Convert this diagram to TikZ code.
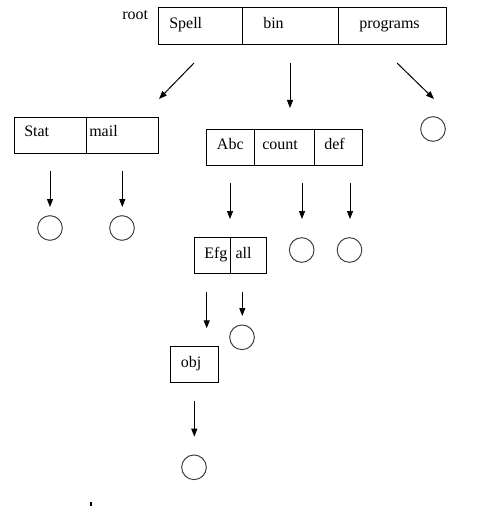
\documentclass[tikz,border=0pt]{standalone}
\usepackage{fontspec}
\setmainfont{Liberation Serif}
\usetikzlibrary{arrows.meta,fit}
\begin{document}
\begin{tikzpicture}[x=0.75pt,y=-0.75pt,
  cell/.style={draw,line width=0.75pt,inner sep=0pt},
  lbl/.style={anchor=base west,inner sep=0pt,font=\fontsize{12pt}{14pt}\selectfont},
  circ/.style={circle,draw=black!75,line width=0.75pt,minimum size=18.5pt,inner sep=0pt},
  arr/.style={line width=0.75pt,-{Triangle[length=6pt,width=4.5pt]}}]
\useasboundingbox (0,0) rectangle (499,506);
% root box
\node[cell,fit={(158.3,8) (242.3,44.3)}] (spell) {};
\node[cell,fit={(242.3,8) (338.7,44.3)}] (bin) {};
\node[cell,fit={(338.7,8) (446,44.3)}] (programs) {};
\node[lbl] (troot) at (122,20) {root};
\node[lbl] (tspell) at (169,29) {Spell};
\node[lbl] (tbin) at (263,29) {bin};
\node[lbl] (tprog) at (359,29) {programs};
% stat / mail
\node[cell,fit={(14,117.3) (86.3,153.7)}] (stat) {};
\node[cell,fit={(86.3,117.3) (158.7,153.7)}] (mail) {};
\node[lbl] (tstat) at (24,137) {Stat};
\node[lbl] (tmail) at (89,137) {mail};
% abc / count / def
\node[cell,fit={(206.7,129.3) (254.3,165.3)}] (abc) {};
\node[cell,fit={(254.3,129.3) (314.3,165.3)}] (count) {};
\node[cell,fit={(314.3,129.3) (362.7,165.3)}] (def) {};
\node[lbl] (tabc) at (216.7,149) {Abc};
\node[lbl] (tcount) at (262,149) {count};
\node[lbl] (tdef) at (324,149) {def};
% efg / all
\node[cell,fit={(194.3,237.3) (230.3,273.3)}] (efg) {};
\node[cell,fit={(230.3,237.3) (266.3,273.3)}] (all) {};
\node[lbl] (tefg) at (204,258) {Efg};
\node[lbl] (tall) at (235.3,258) {all};
% obj
\node[cell,fit={(170.3,346.3) (218.7,382.3)}] (obj) {};
\node[lbl] (tobj) at (180.7,367) {obj};
% circles
\node[circ] (cprog) at (433,129) {};
\node[circ] (cstat) at (50,228) {};
\node[circ] (cmail) at (122,228) {};
\node[circ] (ccount) at (301.7,250) {};
\node[circ] (cdef) at (349.5,250) {};
\node[circ] (call) at (242,337.3) {};
\node[circ] (cobj) at (194,467.3) {};
% arrow coordinates
\coordinate (a1s) at (194,63);   \coordinate (a1e) at (159,99);
\coordinate (a2s) at (290,63);   \coordinate (a2e) at (290,108);
\coordinate (a3s) at (397,63);   \coordinate (a3e) at (434,99);
\coordinate (a4s) at (50,171);   \coordinate (a4e) at (50,207);
\coordinate (a5s) at (122.3,171);\coordinate (a5e) at (122.3,207);
\coordinate (a6s) at (230,183);  \coordinate (a6e) at (230,219);
\coordinate (a7s) at (302,183);  \coordinate (a7e) at (302,219);
\coordinate (a8s) at (350,183);  \coordinate (a8e) at (350,219);
\coordinate (a9s) at (206.7,292.3); \coordinate (a9e) at (206.7,328.3);
\coordinate (a10s) at (242.3,292.3);\coordinate (a10e) at (242.3,316);
\coordinate (a11s) at (194.3,401); \coordinate (a11e) at (194.3,436.7);
\foreach \i in {1,...,11} \draw[arr] (a\i s) -- (a\i e);
% small mark
\coordinate (m1) at (91,501.5); \coordinate (m2) at (91,505.5);
\draw[line width=1.2pt] (m1) -- (m2);
\end{tikzpicture}
\end{document}
